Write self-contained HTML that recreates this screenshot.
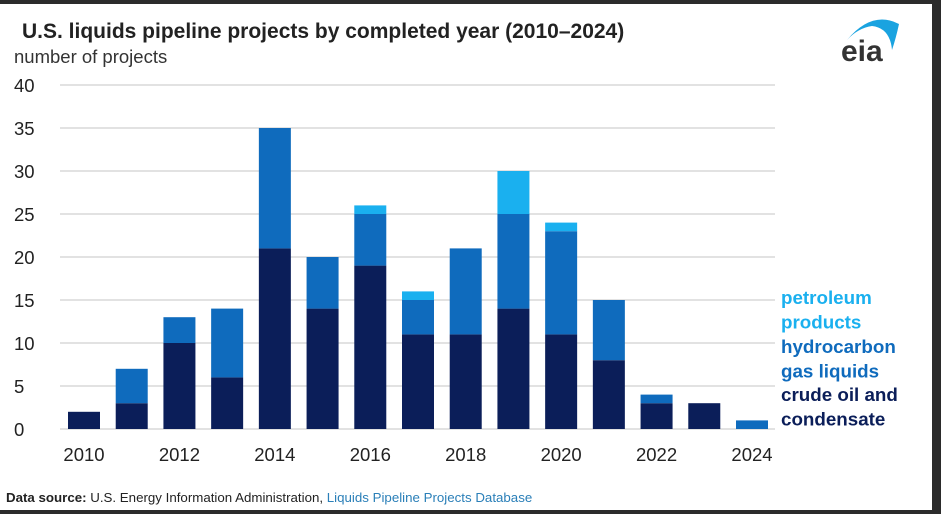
<!DOCTYPE html>
<html><head><meta charset="utf-8">
<style>
body{margin:0;width:941px;height:514px;overflow:hidden;background:#2b2b2b;font-family:"Liberation Sans",sans-serif;}
#card{position:absolute;left:0;top:4px;width:932px;height:506px;background:#fff;}
</style></head>
<body>
<div id="card"></div>
<svg id="chart" width="941" height="514" style="position:absolute;left:0;top:0">
<text x="22" y="38" font-size="21" font-weight="bold" fill="#222">U.S. liquids pipeline projects by completed year (2010–2024)</text>
<text x="14" y="63" font-size="18.5" fill="#333">number of projects</text>
<g>
<path d="M847 40 Q872 10 899 24 Q896 38 892 50 Q890 28 872 26 Q858 28 847 40 Z" fill="#1aa3e0"/>
<text x="841" y="61" font-size="30" font-weight="bold" fill="#333">eia</text>
</g>
<g id="grid"></g><g id="bars"></g><g id="xt"></g>
<g font-size="18.8" font-weight="bold">
<text x="781" y="304" fill="#1ab0ef"><tspan x="781">petroleum</tspan><tspan x="781" dy="24.5">products</tspan></text>
<text x="781" y="353" fill="#0f6bbd"><tspan x="781">hydrocarbon</tspan><tspan x="781" dy="24.5">gas liquids</tspan></text>
<text x="781" y="401" fill="#0b1e59"><tspan x="781">crude oil and</tspan><tspan x="781" dy="24.5">condensate</tspan></text>
</g>
<text x="6" y="502" font-size="13.3" fill="#222"><tspan font-weight="bold">Data source:</tspan> U.S. Energy Information Administration, <tspan fill="#2a7fb8">Liquids Pipeline Projects Database</tspan></text>
</svg>
<script>
const years=[2010,2011,2012,2013,2014,2015,2016,2017,2018,2019,2020,2021,2022,2023,2024];
const crude=[2,3,10,6,21,14,19,11,11,14,11,8,3,3,0];
const hgl=[0,4,3,8,14,6,6,4,10,11,12,7,1,0,1];
const petro=[0,0,0,0,0,0,1,1,0,5,1,0,0,0,0];
const yTicks=[0,5,10,15,20,25,30,35,40];
const xLabels=[2010,2012,2014,2016,2018,2020,2022,2024];
const NS="http://www.w3.org/2000/svg";
const y0=429,yTop=85,yMax=40;
function y(v){return y0-(y0-yTop)*v/yMax;}
const x0=84,step=(752-84)/14;
function x(yr){return x0+(yr-2010)*step;}
const bw=32;
function mk(t,a,p){const e=document.createElementNS(NS,t);for(const k in a)e.setAttribute(k,a[k]);p.appendChild(e);return e;}
const grid=document.getElementById('grid');
yTicks.forEach(v=>{
 const l=mk('line',{x1:60,x2:775,y1:y(v),y2:y(v),stroke:'#d9d9d9','stroke-width':1.5},grid);
 
 
 const t=mk('text',{x:14,y:y(v)+7,'font-size':18.5,fill:'#222'},grid);t.textContent=v;
 
 
});
const bars=document.getElementById('bars');
const series=[[crude,'#0b1e59','crude'],[hgl,'#0f6bbd','hgl'],[petro,'#1ab0ef','petro']];
years.forEach((yr,i)=>{
 let base=0;
 series.forEach(([arr,col,nm])=>{
  const v=arr[i];if(v<=0)return;
  const r=mk('rect',{x:x(yr)-bw/2,y:y(base+v),width:bw,height:y(base)-y(base+v),fill:col},bars);
  
  
  base+=v;
 });
});
const xt=document.getElementById('xt');
xLabels.forEach(yr=>{
 const t=mk('text',{x:x(yr),y:461,'font-size':18.5,fill:'#222','text-anchor':'middle'},xt);t.textContent=yr;
 
 
});
</script>
</body></html>
